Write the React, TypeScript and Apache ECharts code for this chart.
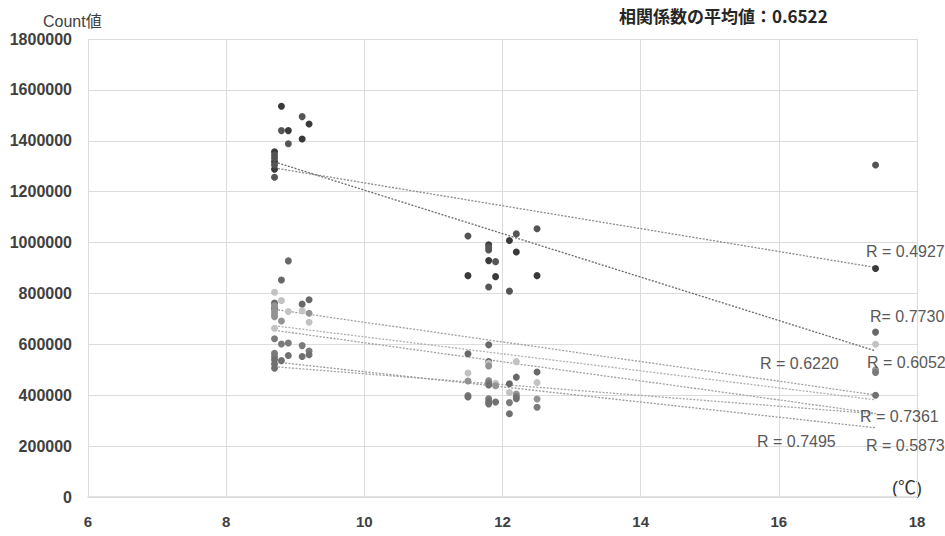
import React, { useEffect, useRef } from "react";
import * as echarts from "echarts";

// ---- Data (temperature ℃, count) ----
const xTicks = [6, 8, 10, 12, 14, 16, 18];
const yTicks = [0, 200000, 400000, 600000, 800000, 1000000, 1200000, 1400000, 1600000, 1800000];

const series1Points: [number, number][] = [
  [8.7, 1357000], [8.7, 1318000], [8.7, 1288000], [8.8, 1536000], [8.9, 1440000], [9.1, 1407000], [9.2, 1466000],
  [11.5, 870000], [11.8, 991000], [11.8, 929000], [11.9, 866000], [12.1, 1008000], [12.2, 963000], [12.5, 870000],
  [17.4, 898000],
];
const series2Points: [number, number][] = [
  [8.7, 1344000], [8.7, 1332000], [8.7, 1305000], [8.7, 1257000], [8.8, 1440000], [8.9, 1388000], [9.1, 1495000],
  [11.5, 1026000], [11.8, 982000], [11.8, 971000], [11.8, 825000], [11.9, 925000], [12.1, 809000], [12.2, 1034000], [12.5, 1054000],
  [17.4, 1305000],
];
const series3Points: [number, number][] = [
  [8.7, 762000], [8.7, 742000], [8.8, 853000], [8.9, 928000], [9.1, 758000], [9.2, 775000],
  [11.5, 563000], [11.8, 598000], [11.8, 532000], [12.1, 445000], [12.2, 471000], [12.5, 491000],
  [17.4, 648000],
];
const series4Points: [number, number][] = [
  [8.7, 805000], [8.7, 663000], [8.8, 772000], [8.9, 729000], [9.1, 732000], [9.2, 687000],
  [11.5, 487000], [11.8, 526000], [11.9, 447000], [12.1, 411000], [12.2, 532000], [12.5, 450000],
  [17.4, 600000],
];
const series5Points: [number, number][] = [
  [8.7, 752000], [8.7, 732000], [8.7, 720000], [8.7, 709000], [8.8, 692000], [9.2, 722000],
  [11.5, 456000], [11.8, 515000], [11.8, 458000], [11.9, 437000], [12.2, 405000], [12.5, 385000],
  [17.4, 500000],
];
const series6Points: [number, number][] = [
  [8.7, 622000], [8.7, 565000], [8.7, 552000], [8.8, 601000], [8.9, 605000], [9.1, 595000], [9.2, 574000],
  [11.5, 399000], [11.8, 450000], [11.8, 386000], [12.1, 371000], [12.2, 395000], [12.5, 353000],
  [17.4, 489000],
];
const series7Points: [number, number][] = [
  [8.7, 539000], [8.7, 523000], [8.7, 506000], [8.8, 536000], [8.9, 556000], [9.1, 552000], [9.2, 559000],
  [11.5, 393000], [11.8, 440000], [11.8, 375000], [11.8, 366000], [11.9, 373000], [12.1, 327000], [12.2, 386000],
  [17.4, 400000],
];

// trend line endpoints [x, y] at start and end
const trend1: [number, number][] = [[8.7, 1293000], [17.4, 902000]];
const trend2: [number, number][] = [[8.7, 1317000], [17.4, 574000]];
const trend3: [number, number][] = [[8.7, 737000], [17.4, 401000]];
const trend4: [number, number][] = [[8.7, 673000], [17.4, 382000]];
const trend5: [number, number][] = [[8.7, 655000], [17.4, 329000]];
const trend6: [number, number][] = [[8.7, 512000], [17.4, 327000]];
const trend7: [number, number][] = [[8.7, 531000], [17.4, 272000]];

const rLabels = ["R = 0.4927", "R= 0.7730", "R = 0.6220", "R = 0.6052", "R = 0.7361", "R = 0.7495", "R = 0.5873"];
const titleText = "相関係数の平均値：0.6522";
const yAxisName = "Count値";
const xAxisUnit = "(℃)";

const pointSets = [series1Points, series2Points, series3Points, series4Points, series5Points, series6Points, series7Points];
const trendSets = [trend1, trend2, trend3, trend4, trend5, trend6, trend7];
const pointColors = ["#3a3a3a", "#555555", "#686868", "#c2c2c2", "#939393", "#7a7a7a", "#707070"];
const trendColors = ["#8a8a8a", "#6a6a6a", "#a0a0a0", "#b0b0b0", "#a0a0a0", "#a4a4a4", "#9a9a9a"];
// label pixel positions (left x, centre y)
const rLabelPos: [number, number][] = [
  [866, 252], [870, 317], [760, 364], [867, 363], [860, 417], [757, 442], [866, 446],
];

export default function App() {
  const ref = useRef<HTMLDivElement>(null);
  useEffect(() => {
    if (!ref.current) return;
    const chart = echarts.init(ref.current, undefined, { renderer: "svg" });
    const font = "'Liberation Sans', Arial, sans-serif";
    const series: any[] = [];
    pointSets.forEach((pts, i) => {
      series.push({
        type: "scatter",
        data: pts,
        symbol: "circle",
        symbolSize: 7,
        itemStyle: { color: pointColors[i], opacity: 1 },
        z: 3,
      });
    });
    trendSets.forEach((tr, i) => {
      series.push({
        type: "line",
        data: tr,
        symbol: "none",
        lineStyle: { color: trendColors[i], width: 1.3, type: [2, 1.5] },
        z: 2,
      });
    });
    const graphics: any[] = [
      {
        type: "text",
        left: 619,
        top: 7,
        style: { text: titleText, font: "bold 17px 'Noto Sans CJK JP', sans-serif", fill: "#262626" },
      },
      {
        type: "text",
        left: 43,
        top: 13,
        style: { text: yAxisName, font: "16px 'Liberation Sans', 'Noto Sans CJK JP', sans-serif", fill: "#404040" },
      },
      {
        type: "text",
        left: 892,
        top: 479,
        style: { text: xAxisUnit, font: "18px 'Liberation Sans', 'Noto Sans CJK JP', sans-serif", fill: "#333333" },
      },
    ];
    rLabels.forEach((t, i) => {
      graphics.push({
        type: "text",
        left: rLabelPos[i][0],
        top: rLabelPos[i][1] - 9,
        style: { text: t, font: `16px ${font}`, fill: "#595959" },
        z: 10,
      });
    });
    chart.setOption({
      animation: false,
      backgroundColor: "#ffffff",
      grid: { left: 88, right: 28, top: 39, bottom: 39 },
      xAxis: {
        type: "value",
        min: xTicks[0],
        max: xTicks[xTicks.length - 1],
        interval: 2,
        axisLine: { show: true, lineStyle: { color: "#d9d9d9", width: 1.5 } },
        axisTick: { show: false },
        axisLabel: { color: "#404040", fontSize: 15, fontWeight: "bold", fontFamily: font, margin: 17 },
        splitLine: { show: true, lineStyle: { color: "#dcdcdc", width: 1 } },
      },
      yAxis: {
        type: "value",
        min: yTicks[0],
        max: yTicks[yTicks.length - 1],
        interval: 200000,
        axisLine: { show: false },
        axisTick: { show: false },
        axisLabel: {
          color: "#404040",
          fontSize: 16,
          fontWeight: "bold",
          fontFamily: font,
          margin: 16,
          formatter: (v: number) => String(v),
        },
        splitLine: { show: true, lineStyle: { color: "#dcdcdc", width: 1 } },
      },
      series,
      graphic: graphics,
    });
    return () => chart.dispose();
  }, []);
  return <div ref={ref} style={{ position: "fixed", left: 0, top: 0, width: 945, height: 536, background: "#fff" }} />;
}
